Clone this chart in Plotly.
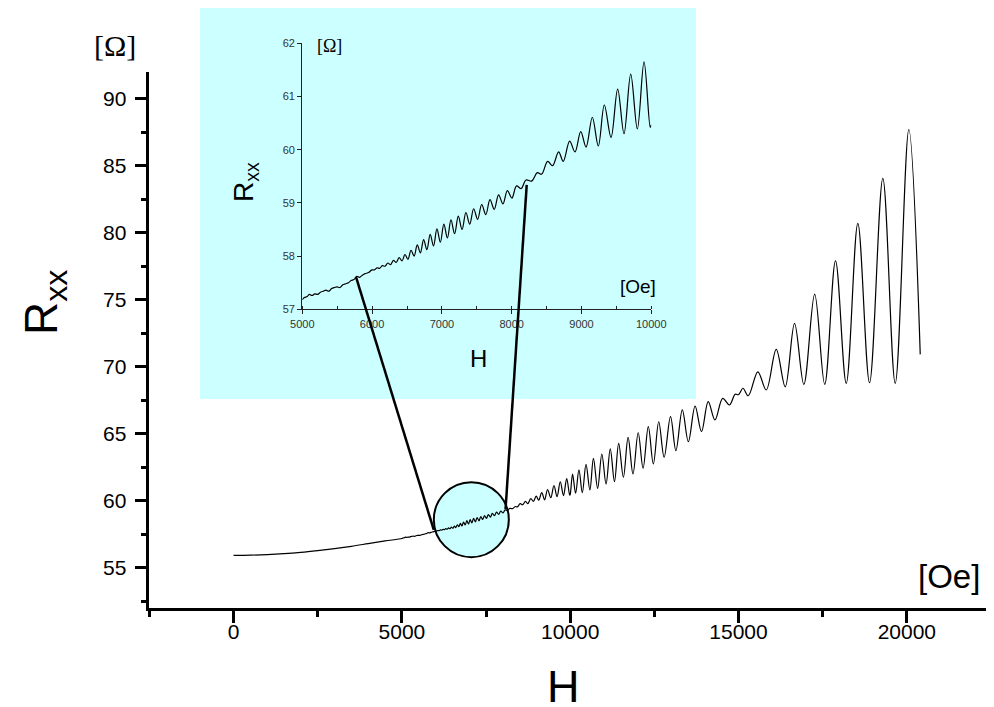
import plotly.graph_objects as go

# ---------------- data ----------------
# low-field background, main panel (Oe, Ohm)
H_low = [0, 500, 1000, 1500, 2000, 2500, 3000, 3500, 4000, 4500]
R_low = [55.92, 55.94, 55.98, 56.05, 56.15, 56.28, 56.43, 56.60, 56.80, 57.00]

# inset region 5000-10000 Oe (fine detail)
H_inset = [5000, 5030, 5070, 5100, 5140, 5180, 5220, 5260, 5300, 5340, 5380, 5420,
           5460, 5500, 5540, 5580, 5620, 5660, 5700, 5740, 5780, 5820, 5860, 5900,
           5950, 5996, 6033, 6070, 6108, 6147, 6186, 6225, 6265, 6305, 6346, 6387,
           6429, 6471, 6514, 6558, 6602, 6647, 6692, 6738, 6785, 6832, 6880, 6929,
           6978, 7028, 7079, 7130, 7182, 7235, 7289, 7344, 7399, 7455, 7512, 7570,
           7629, 7689, 7750, 7812, 7875, 7938, 8003, 8069, 8136, 8204, 8286, 8367,
           8429, 8515, 8586, 8672, 8739, 8830, 8907, 8989, 9065, 9155, 9241, 9327,
           9423, 9518, 9609, 9705, 9800, 9896, 9985, 10000]
R_inset = [57.18, 57.22, 57.24, 57.28, 57.26, 57.29, 57.28, 57.32, 57.34, 57.36, 57.34, 57.39,
           57.41, 57.42, 57.41, 57.46, 57.48, 57.50, 57.54, 57.56, 57.62, 57.60, 57.64, 57.67,
           57.69, 57.74, 57.74, 57.78, 57.77, 57.82, 57.81, 57.87, 57.84, 57.92, 57.88, 57.97,
           57.91, 58.03, 57.94, 58.11, 58.00, 58.21, 58.06, 58.31, 58.12, 58.41, 58.19, 58.51,
           58.26, 58.60, 58.34, 58.68, 58.42, 58.75, 58.50, 58.82, 58.60, 58.89, 58.69, 58.97,
           58.78, 59.06, 58.88, 59.15, 58.98, 59.23, 59.09, 59.32, 59.27, 59.43, 59.41, 59.57,
           59.54, 59.78, 59.70, 59.96, 59.78, 60.16, 59.96, 60.34, 60.05, 60.61, 60.07, 60.84,
           60.23, 61.14, 60.30, 61.42, 60.39, 61.65, 60.42, 60.47]

# high-field part of the main panel (peaks and valleys)
H_high = [10070, 10160, 10260, 10360, 10470, 10585, 10690, 10815, 10940, 11065, 11190, 11315,
          11440, 11580, 11720, 11865, 12020, 12165, 12320, 12470, 12630, 12790, 12980, 13140,
          13330, 13510, 13710, 13900, 14100, 14300, 14530, 14730, 14900, 15000, 15130, 15290,
          15574, 15823, 16120, 16387, 16664, 16940, 17262, 17560, 17881, 18200, 18544, 18892,
          19287, 19655, 20059, 20398]
R_high = [62.00, 60.56, 62.30, 60.60, 62.72, 60.81, 63.17, 60.93, 63.49, 61.25, 63.87, 61.43,
          64.29, 61.75, 64.74, 62.00, 65.08, 62.43, 65.53, 62.75, 65.90, 63.25, 66.28, 63.74,
          66.78, 64.41, 67.07, 65.16, 67.40, 66.03, 67.65, 67.15, 67.95, 67.92, 68.40, 67.84,
          69.63, 68.27, 71.31, 68.51, 73.25, 68.69, 75.43, 68.69, 77.92, 68.77, 80.71, 68.81,
          84.07, 68.77, 87.72, 70.93]

main_x_ticks = [0, 5000, 10000, 15000, 20000]
main_y_ticks = [55, 60, 65, 70, 75, 80, 85, 90]
inset_x_ticks = [5000, 6000, 7000, 8000, 9000, 10000]
inset_y_ticks = [57, 58, 59, 60, 61, 62]

# zoom markers: inset point -> main point
link_inset = [(5769, 57.61), (8215, 59.34)]
link_main = [(5948, 57.82), (8080, 59.37)]
circle_center = (7063, 58.59)

# ---------------- layout geometry (pixels on the page) ----------------
W, Hh = 994, 707
OFF = 8  # page offset of the figure (body margin)
MX0, MX1, MY0, MY1 = 149.4, 991.0, 72.2, 607.9   # main plot box
IX0, IX1, IY0, IY1 = 302.3, 651.3, 43.3, 309.3   # inset plot box
MXR, MYR = (-2500, 22500), (52, 92)
IXR, IYR = (5000, 10000), (57, 62)

def main_px(h, r):
    return (MX0 + (h - MXR[0]) / (MXR[1] - MXR[0]) * (MX1 - MX0),
            MY1 - (r - MYR[0]) / (MYR[1] - MYR[0]) * (MY1 - MY0))

def inset_px(h, r):
    return (IX0 + (h - IXR[0]) / (IXR[1] - IXR[0]) * (IX1 - IX0),
            IY1 - (r - IYR[0]) / (IYR[1] - IYR[0]) * (IY1 - IY0))

def fx(px):
    return (px - OFF) / W

def fy(py):
    return 1 - (py - OFF) / Hh

def paper(px, py):
    return fx(px), fy(py)

CYAN = "#CCFFFF"
FONT = "Arial, Liberation Sans, sans-serif"
SERIF = "Times New Roman, Liberation Serif, serif"

H_all = H_low + H_inset + H_high
R_all = R_low + R_inset + R_high

fig = go.Figure()
fig.add_trace(go.Scatter(x=H_all, y=R_all, mode="lines",
                         line=dict(color="black", width=1.2, shape="spline", smoothing=1.0),
                         xaxis="x", yaxis="y", hoverinfo="skip", showlegend=False))
fig.add_trace(go.Scatter(x=H_inset, y=R_inset, mode="lines",
                         line=dict(color="black", width=1.2, shape="spline", smoothing=1.0),
                         xaxis="x2", yaxis="y2", hoverinfo="skip", showlegend=False))

shapes = []
# inset background
shapes.append(dict(type="rect", xref="paper", yref="paper",
                   x0=fx(200), x1=fx(696), y0=fy(399), y1=fy(5),
                   fillcolor=CYAN, line=dict(width=0), layer="below"))
# zoom circle
cx, cy = main_px(*circle_center)
rad = 37.5
x0, y0 = paper(cx - rad, cy + rad)
x1, y1 = paper(cx + rad, cy - rad)
shapes.append(dict(type="circle", xref="paper", yref="paper", x0=x0, x1=x1, y0=y0, y1=y1,
                   fillcolor=CYAN, line=dict(color="black", width=2), layer="below"))
for a, b in zip(link_inset, link_main):
    ax, ay = paper(*inset_px(*a))
    bx, by = paper(*main_px(*b))
    shapes.append(dict(type="line", xref="paper", yref="paper", x0=ax, y0=ay, x1=bx, y1=by,
                       line=dict(color="black", width=2.5), layer="above"))

def ann(text, px, py, size, family=FONT, angle=0, color="black"):
    x, y = paper(px, py)
    return dict(text=text, x=x, y=y, xref="paper", yref="paper", showarrow=False,
                xanchor="center", yanchor="middle", textangle=angle,
                font=dict(size=size, family=family, color=color))

annotations = [
    ann("[Ω]", 115, 45, 30, SERIF),
    ann("[Oe]", 949, 576, 33),
    ann("R<sub>xx</sub>", 44, 303, 46, angle=-90),
    ann("H", 563, 686, 45),
    ann("[Ω]", 329, 46, 18, SERIF),
    ann("[Oe]", 638, 286, 19),
    ann("R<sub>xx</sub>", 245, 182, 28, angle=-90),
    ann("H", 478, 358, 24),
]

axis_main = dict(showline=True, linecolor="black", linewidth=2.5, ticks="outside",
                 ticklen=12, tickwidth=2.5, tickcolor="black", showgrid=False, zeroline=False,
                 tickformat="d",
                 tickfont=dict(size=21, family=FONT, color="black"))
axis_inset = dict(showline=True, linecolor="#222", linewidth=1.2, ticks="outside",
                  ticklen=4, tickwidth=1, tickcolor="#222", showgrid=False, zeroline=False,
                  tickformat="d",
                  tickfont=dict(size=11, family=FONT, color="#333"))

fig.update_layout(
    width=W, height=Hh, margin=dict(l=0, r=0, t=0, b=0, pad=0, autoexpand=False),
    paper_bgcolor="white", plot_bgcolor="rgba(0,0,0,0)", showlegend=False,
    xaxis=dict(axis_main, domain=[fx(MX0), fx(MX1)], range=list(MXR), anchor="y",
               tickvals=main_x_ticks, automargin=False, ticklabelstandoff=-9,
               minor=dict(ticks="outside", ticklen=6, tickwidth=2.5, tickcolor="black", dtick=2500, tick0=0)),
    yaxis=dict(axis_main, domain=[fy(MY1), fy(MY0)], range=list(MYR), anchor="x",
               tickvals=main_y_ticks, automargin=False, ticklabelstandoff=4,
               minor=dict(ticks="outside", ticklen=6, tickwidth=2.5, tickcolor="black", dtick=2.5, tick0=0)),
    xaxis2=dict(axis_inset, domain=[fx(IX0), fx(IX1)], range=list(IXR), anchor="y2",
                tickvals=inset_x_ticks, automargin=False,
                minor=dict(ticks="inside", ticklen=3, tickwidth=1, tickcolor="#222", dtick=500, tick0=0)),
    yaxis2=dict(axis_inset, domain=[fy(IY1), fy(IY0)], range=list(IYR), anchor="x2",
                tickvals=inset_y_ticks, automargin=False),
    shapes=shapes, annotations=annotations,
)

fig.write_html("out.html")
